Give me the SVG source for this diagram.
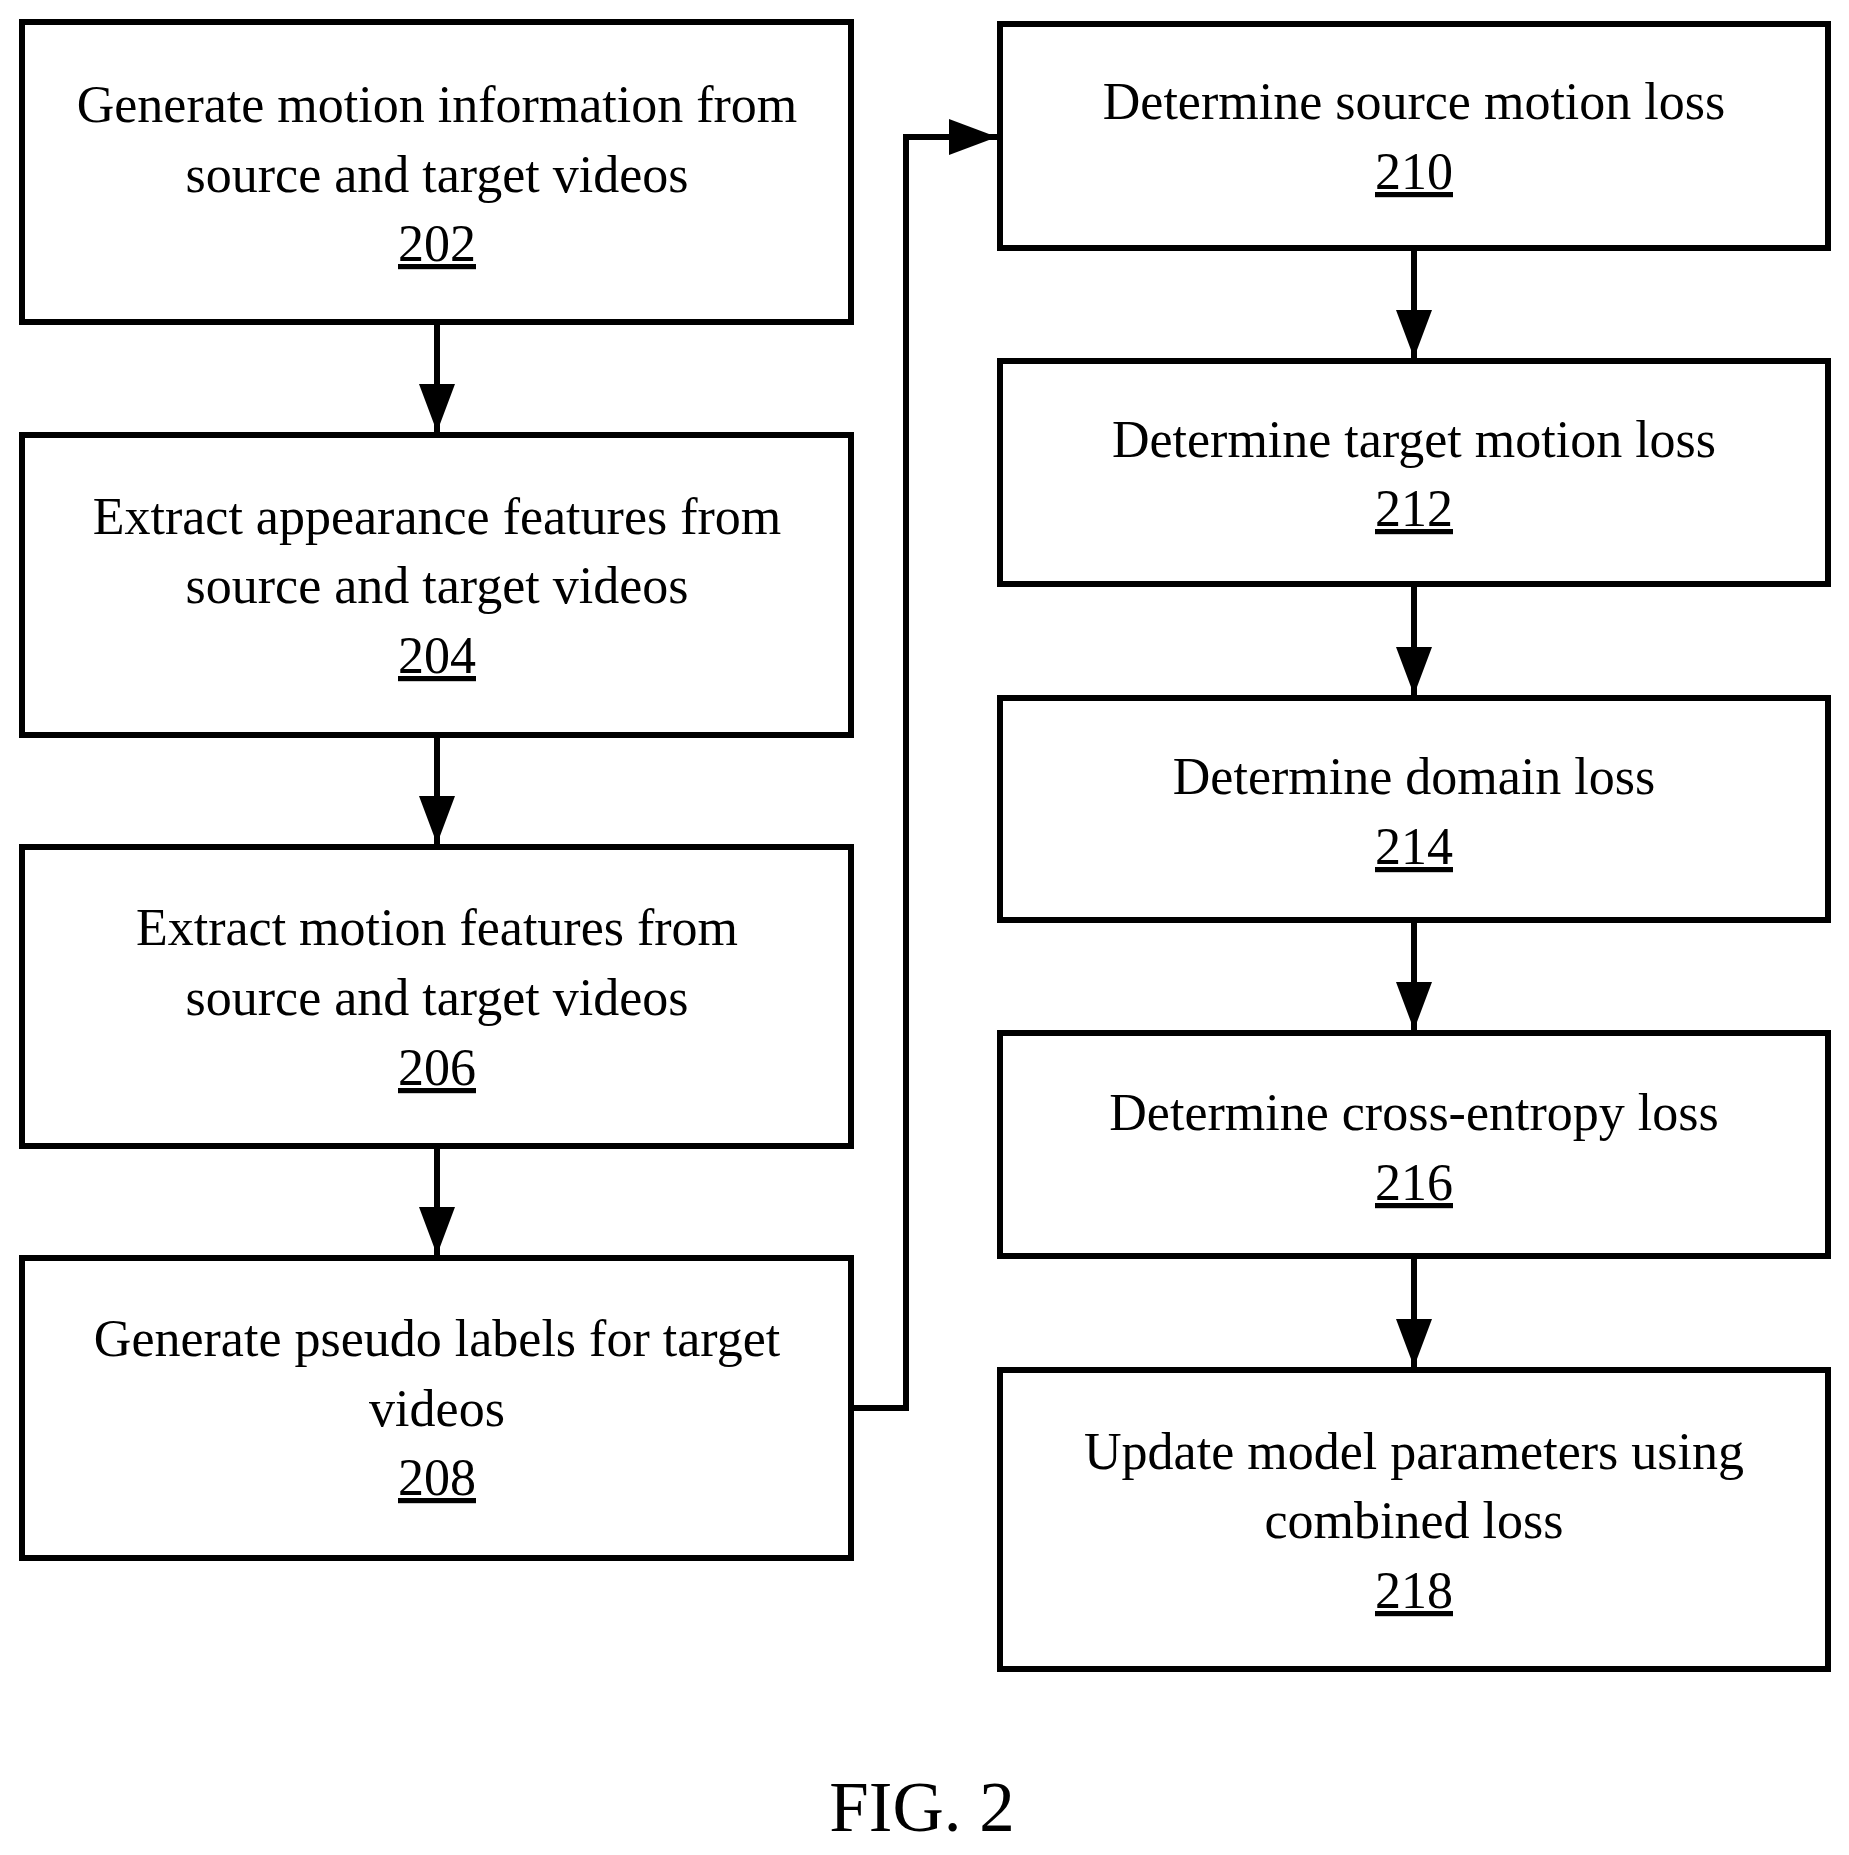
<svg xmlns="http://www.w3.org/2000/svg" width="1849" height="1855" viewBox="0 0 1849 1855">
<style>
rect{fill:#fff;stroke:#000;stroke-width:6}
text{font-family:"Liberation Serif",serif;font-size:52px;text-anchor:middle;fill:#000}
.n{text-decoration:underline}
.c{fill:none;stroke:#000;stroke-width:6}
</style>
<defs><marker id="a" markerWidth="8" markerHeight="6" refX="8" refY="3" orient="auto" markerUnits="strokeWidth"><path d="M0,0L8,3L0,6z"/></marker></defs>
<rect width="1849" height="1855" style="stroke:none"/>
<g id="connectors">
<path class="c" d="M437,322V432" marker-end="url(#a)"/>
<path class="c" d="M437,735V844" marker-end="url(#a)"/>
<path class="c" d="M437,1146V1255" marker-end="url(#a)"/>
<path class="c" d="M851,1408H906V137H997" marker-end="url(#a)"/>
<path class="c" d="M1414,248V358" marker-end="url(#a)"/>
<path class="c" d="M1414,584V695" marker-end="url(#a)"/>
<path class="c" d="M1414,920V1030" marker-end="url(#a)"/>
<path class="c" d="M1414,1256V1367" marker-end="url(#a)"/>
</g>
<g id="n202"><rect x="22" y="22" width="829" height="300"/><text x="437" y="122">Generate motion information from</text><text x="437" y="192">source and target videos</text><text class="n" x="437" y="261">202</text></g>
<g id="n204"><rect x="22" y="435" width="829" height="300"/><text x="437" y="534">Extract appearance features from</text><text x="437" y="603">source and target videos</text><text class="n" x="437" y="673">204</text></g>
<g id="n206"><rect x="22" y="847" width="829" height="299"/><text x="437" y="945">Extract motion features from</text><text x="437" y="1015">source and target videos</text><text class="n" x="437" y="1085">206</text></g>
<g id="n208"><rect x="22" y="1258" width="829" height="300"/><text x="437" y="1356">Generate pseudo labels for target</text><text x="437" y="1426">videos</text><text class="n" x="437" y="1495">208</text></g>
<g id="n210"><rect x="1000" y="24" width="828" height="224"/><text x="1414" y="119">Determine source motion loss</text><text class="n" x="1414" y="189">210</text></g>
<g id="n212"><rect x="1000" y="361" width="828" height="223"/><text x="1414" y="457">Determine target motion loss</text><text class="n" x="1414" y="526">212</text></g>
<g id="n214"><rect x="1000" y="698" width="828" height="222"/><text x="1414" y="794">Determine domain loss</text><text class="n" x="1414" y="864">214</text></g>
<g id="n216"><rect x="1000" y="1033" width="828" height="223"/><text x="1414" y="1130">Determine cross-entropy loss</text><text class="n" x="1414" y="1200">216</text></g>
<g id="n218"><rect x="1000" y="1370" width="828" height="299"/><text x="1414" y="1469">Update model parameters using</text><text x="1414" y="1538">combined loss</text><text class="n" x="1414" y="1608">218</text></g>
<text x="922" y="1831" style="font-size:71px">FIG. 2</text>
</svg>
